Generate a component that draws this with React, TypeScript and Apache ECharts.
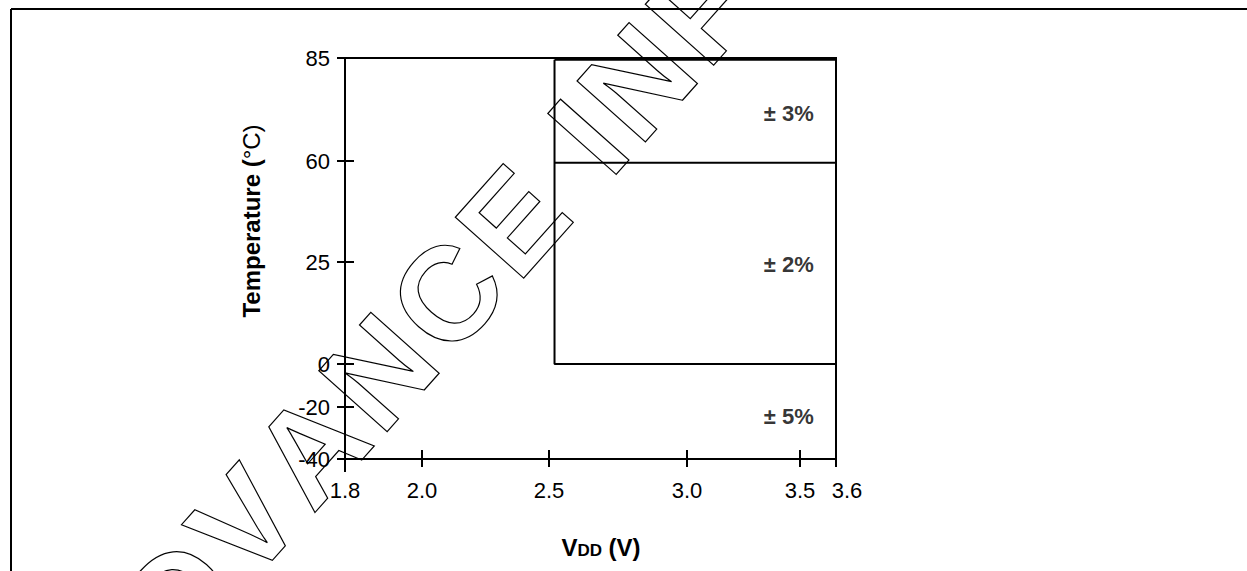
import React, { useEffect, useRef } from "react";
import * as echarts from "echarts";

// Non-linear axes of the original figure: tick values and their stops along each axis
const xTickValues = [1.8, 2.0, 2.5, 3.0, 3.5, 3.6];
const xScaleStops = [0, 77, 204, 342, 455, 491];
const yTickValues = [-40, -20, 0, 25, 60, 85];
const yScaleStops = [0, 52, 95, 197, 298, 401];

// Accuracy regions (VDD in V, temperature in °C)
const boxOutline = [
  [2.52, 84.6],
  [2.52, 0],
  [3.6, 0],
  [3.6, 84.6],
  [2.52, 84.6],
];
const dividerLine = [
  [2.52, 59.4],
  [3.6, 59.4],
];
const zoneLabels = ["± 3%", "± 2%", "± 5%"];
const zoneLabelVdd = [3.45, 3.45, 3.45];
const zoneLabelTemp = [71.5, 24.5, -23.8];

const watermarkText = "ADVANCE INFORMATION";

const FONT = '"Liberation Sans", Arial, sans-serif';

function warp(v: number, from: number[], to: number[]): number {
  for (let i = 0; i < from.length - 1; i++) {
    if (v <= from[i + 1] || i === from.length - 2) {
      const t = (v - from[i]) / (from[i + 1] - from[i]);
      return to[i] + t * (to[i + 1] - to[i]);
    }
  }
  return to[0];
}
const wx = (v: number) => warp(v, xTickValues, xScaleStops);
const wy = (v: number) => warp(v, yTickValues, yScaleStops);

function nearestIndex(arr: number[], v: number) {
  let best = 0;
  for (let i = 0; i < arr.length; i++) {
    if (Math.abs(arr[i] - v) < Math.abs(arr[best] - v)) best = i;
  }
  return best;
}

function watermarkChars(font: string, spacing: number) {
  const canvas = document.createElement("canvas");
  const ctx = canvas.getContext("2d");
  const out: any[] = [];
  let x = 0;
  for (const ch of watermarkText) {
    let w = 0;
    if (ctx) {
      ctx.font = font;
      w = ctx.measureText(ch).width;
    }
    if (ch !== " ") {
      out.push({
        type: "text",
        x,
        y: -46,
        style: {
          text: ch,
          font,
          fill: "rgba(0,0,0,0)",
          stroke: "#000",
          lineWidth: 1.2,
          align: "left",
          verticalAlign: "middle",
        },
      });
    }
    x += w + spacing;
  }
  return out;
}

export default function App() {
  const ref = useRef<HTMLDivElement>(null);

  useEffect(() => {
    if (!ref.current) return;
    const chart = echarts.init(ref.current, null, { renderer: "svg" });

    const xPos = xTickValues.map(wx);
    const yPos = yTickValues.map(wy);

    const baseX = {
      type: "value",
      position: "bottom",
      min: 0,
      max: xScaleStops[xScaleStops.length - 1],
      splitLine: { show: false },
    };
    const baseY = {
      type: "value",
      position: "left",
      min: 0,
      max: yScaleStops[yScaleStops.length - 1],
      splitLine: { show: false },
    };
    const lineStyle = { color: "#000", width: 2 };
    const wmFont = "bold 133px " + FONT;

    const option: any = {
      animation: false,
      textStyle: { fontFamily: FONT, color: "#000" },
      grid: {
        left: 345,
        top: 58,
        width: 491,
        height: 401,
        show: true,
        borderColor: "#000",
        borderWidth: 2,
        backgroundColor: "transparent",
      },
      xAxis: [
        {
          ...baseX,
          axisLine: { show: true, lineStyle },
          axisTick: { show: true, inside: false, length: 8, lineStyle, customValues: xPos },
          axisLabel: {
            show: true,
            customValues: xPos,
            margin: 20,
            fontSize: 22,
            fontFamily: FONT,
            color: "#000",
            formatter: (val: number) => {
              const i = nearestIndex(xPos, val);
              const t = xTickValues[i].toFixed(1);
              return i === xTickValues.length - 1 ? "{r|" + t + "}" : t;
            },
            rich: {
              r: { fontSize: 22, fontFamily: FONT, color: "#000", padding: [0, 0, 0, 22] },
            },
          },
        },
        {
          ...baseX,
          axisLine: { show: false },
          axisTick: { show: true, inside: true, length: 9, lineStyle, customValues: xPos },
          axisLabel: { show: false },
        },
        {
          ...baseX,
          axisLine: { show: false },
          axisTick: { show: true, inside: false, length: 13, lineStyle, customValues: [xPos[0]] },
          axisLabel: { show: false },
        },
      ],
      yAxis: [
        {
          ...baseY,
          axisLine: { show: true, lineStyle },
          axisTick: { show: true, inside: false, length: 8, lineStyle, customValues: yPos },
          axisLabel: {
            show: true,
            customValues: yPos,
            margin: 15,
            fontSize: 22,
            fontFamily: FONT,
            color: "#000",
            formatter: (val: number) => String(yTickValues[nearestIndex(yPos, val)]),
          },
        },
        {
          ...baseY,
          axisLine: { show: false },
          axisTick: { show: true, inside: true, length: 9, lineStyle, customValues: yPos },
          axisLabel: { show: false },
        },
      ],
      series: [
        {
          type: "line",
          xAxisIndex: 0,
          yAxisIndex: 0,
          data: boxOutline.map((p) => [wx(p[0]), wy(p[1])]),
          symbol: "none",
          lineStyle: { color: "#000", width: 2 },
          silent: true,
        },
        {
          type: "line",
          xAxisIndex: 0,
          yAxisIndex: 0,
          data: dividerLine.map((p) => [wx(p[0]), wy(p[1])]),
          symbol: "none",
          lineStyle: { color: "#000", width: 2 },
          silent: true,
        },
        {
          type: "scatter",
          xAxisIndex: 0,
          yAxisIndex: 0,
          symbolSize: 0,
          silent: true,
          data: zoneLabels.map((name, i) => ({
            name,
            value: [wx(zoneLabelVdd[i]), wy(zoneLabelTemp[i])],
          })),
          label: {
            show: true,
            position: "inside",
            formatter: "{b}",
            fontSize: 22,
            fontWeight: "bold",
            fontFamily: FONT,
            color: "#000",
          },
        },
      ],
      graphic: [
        {
          type: "line",
          shape: { x1: 11, y1: 9, x2: 1247, y2: 9 },
          style: { stroke: "#000", lineWidth: 2 },
          silent: true,
        },
        {
          type: "line",
          shape: { x1: 11, y1: 9, x2: 11, y2: 571 },
          style: { stroke: "#000", lineWidth: 2 },
          silent: true,
        },
        {
          type: "text",
          x: 251.5,
          y: 221,
          rotation: Math.PI / 2,
          silent: true,
          style: {
            text: "{b|Temperature (}{n|°C)}",
            align: "center",
            verticalAlign: "middle",
            fill: "#000",
            rich: {
              b: { fontSize: 24, fontWeight: "bold", fontFamily: FONT, fill: "#000" },
              n: { fontSize: 24, fontWeight: "normal", fontFamily: FONT, fill: "#000" },
            },
          },
        },
        {
          type: "text",
          x: 601,
          y: 546,
          silent: true,
          style: {
            text: "{v|V}{d|DD}{v| (V)}",
            align: "center",
            verticalAlign: "middle",
            fill: "#000",
            rich: {
              v: { fontSize: 24, fontWeight: "bold", fontFamily: FONT, fill: "#000", verticalAlign: "bottom", lineHeight: 26 },
              d: { fontSize: 17, fontWeight: "bold", fontFamily: FONT, fill: "#000", verticalAlign: "bottom", lineHeight: 20 },
            },
          },
        },
        {
          type: "group",
          x: 112.6,
          y: 739.7,
          rotation: (48.3 * Math.PI) / 180,
          silent: true,
          z: 100,
          children: watermarkChars(wmFont, 6.7),
        },
      ],
    };

    chart.setOption(option);
    return () => chart.dispose();
  }, []);

  return (
    <div
      ref={ref}
      style={{ position: "absolute", left: 0, top: 0, width: 1247, height: 571, background: "#fff" }}
    />
  );
}
